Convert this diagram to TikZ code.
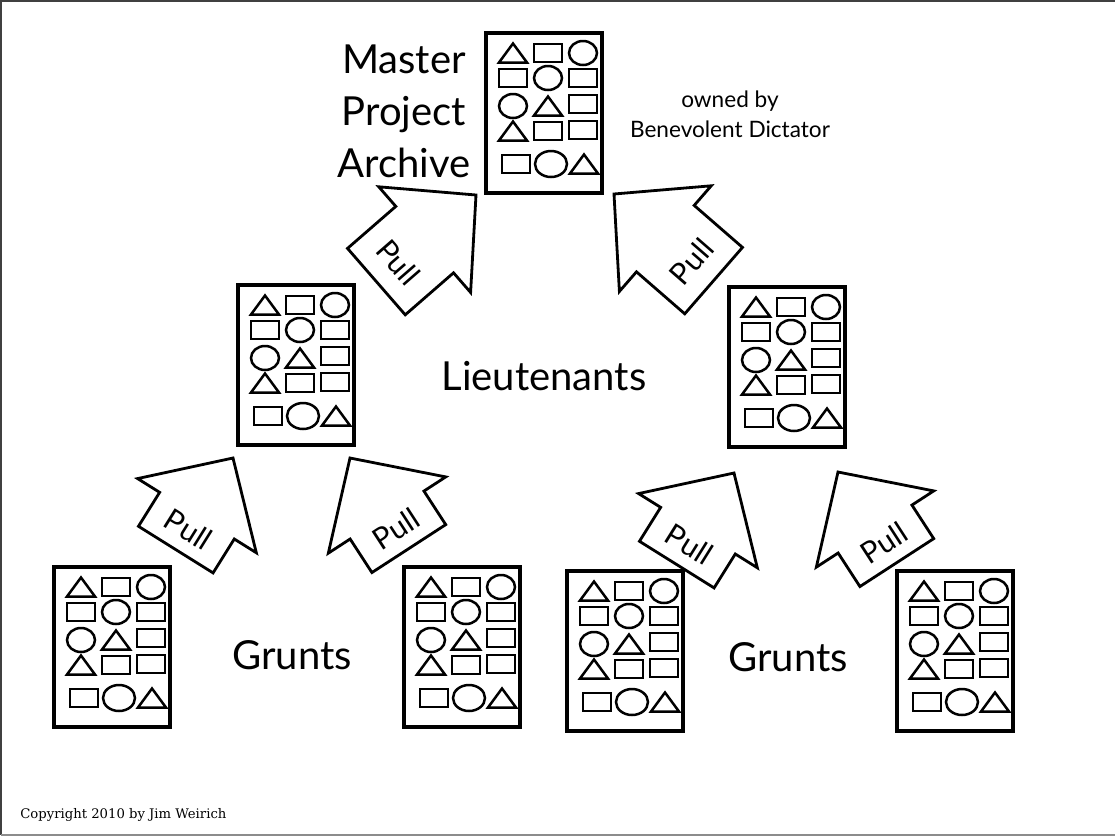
\documentclass[tikz,border=0pt]{standalone}
\usepackage{fontspec}
\setmainfont{Lato}
\newfontfamily\typefont{DejaVu Serif}
\usepackage{tikz}

% little glyphs inside an archive sheet (coordinates in px, y down)
\newcommand{\gtri}[2]{\draw[glyph] (#1-14,#2+9.5) -- (#1+14,#2+9.5) -- (#1,#2-9.5) -- cycle;}
\newcommand{\grect}[2]{\draw[glyph] (#1-14,#2-9) rectangle (#1+14,#2+9);}
\newcommand{\gcirc}[2]{\draw[glyph] (#1,#2) ellipse [x radius=7pt, y radius=6pt];}

\begin{document}
\begin{tikzpicture}[
  x=0.5pt, y=-0.5pt,
  glyph/.style={line width=1.25pt},
  archivebox/.style={
    draw,
    line width=1.6pt,
    minimum width=58pt,
    minimum height=80pt,
    inner sep=0pt
  },
  arrowbody/.style={draw, line width=1.4pt, fill=white, line join=miter},
  pulltext/.style={font=\fontsize{15}{18}\selectfont, rotate=-90},
  bigtext/.style={font=\fontsize{20}{26}\selectfont, align=center},
  smalltext/.style={font=\fontsize{11.3}{15}\selectfont, align=center},
  archive/.pic={
    \node[archivebox] (-box) at (0,0) {};
    \gtri{-31}{-60} \grect{4}{-60} \gcirc{39}{-60}
    \grect{-31}{-35} \gcirc{4}{-35} \grect{39}{-35}
    \gcirc{-31}{-7} \gtri{4}{-7} \grect{39}{-9}
    \gtri{-31}{18} \grect{4}{18} \grect{39}{17}
    \grect{-28}{51}
    \draw[glyph] (7,51) ellipse [x radius=8pt, y radius=6.5pt];
    \gtri{40}{51}
  },
  % block arrow pointing along +x, tip at the origin; #1 = full length
  pull/.pic={
    \draw[arrowbody] (0,0) -- (-68,70) -- (-68,44) -- (-#1,44) -- (-#1,-44)
      -- (-68,-44) -- (-68,-70) -- cycle;
    \node[pulltext] (-label) at ({-0.78*#1},0) {Pull};
  }
]
\useasboundingbox (0,0) rectangle (1115,837);

% frame
\draw[black!75, line width=0.8pt] (1115,1) -- (1,1) -- (1,835);
\draw[black!45, line width=0.8pt] (1,835) -- (1115,835);

% archives
\pic (master) at (544,113) {archive};
\pic (lieutL) at (296,365) {archive};
\pic (lieutR) at (787,367) {archive};
\pic (gruntA) at (112,647) {archive};
\pic (gruntB) at (462,647) {archive};
\pic (gruntC) at (625,651) {archive};
\pic (gruntD) at (955,651) {archive};

% pull arrows
\pic[rotate=41, transform shape] (pullA) at (476,195) {pull=132};
\pic[rotate=139, transform shape] (pullB) at (614,194) {pull=132};
\pic[rotate=58, transform shape] (pullC) at (233,458) {pull=108};
\pic[rotate=123, transform shape] (pullD) at (350,458) {pull=108};
\pic[rotate=58, transform shape] (pullE) at (734,473) {pull=108};
\pic[rotate=123, transform shape] (pullF) at (838,472) {pull=108};

% labels
\node[bigtext] (mastertxt) at (404,111) {Master\\Project\\Archive};
\node[smalltext] (owner) at (730,114) {owned by\\Benevolent Dictator};
\node[bigtext] (lieuttxt) at (544,376) {Lieutenants};
\node[bigtext] (gruntsL) at (292,655) {Grunts};
\node[bigtext] (gruntsR) at (788,657) {Grunts};
\node[font=\typefont\fontsize{6.6}{8}\selectfont, anchor=base west, inner sep=0pt]
  (copyright) at (20,818) {Copyright 2010 by Jim Weirich};

\end{tikzpicture}
\end{document}
